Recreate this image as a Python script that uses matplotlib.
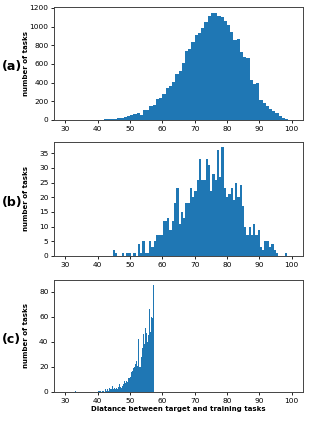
import matplotlib
matplotlib.use("Agg")
import matplotlib.pyplot as plt
import numpy as np

# (a) all tasks, bins of width 1 from 30 to 100
edges_a = np.arange(30, 101, 1)
counts_a = [
    0, 0, 0, 0, 1, 1, 1, 2, 2, 3,            # 30-39
    4, 5, 6, 8, 10, 13, 16, 20, 28, 38,      # 40-49
    50, 60, 80, 55, 105, 110, 145, 160, 228, 232,  # 50-59
    282, 340, 360, 405, 490, 525, 610, 740, 760, 830,  # 60-69
    905, 930, 985, 1045, 1110, 1150, 1145, 1110, 1100, 1060,  # 70-79
    1020, 940, 860, 865, 730, 670, 660, 430, 390, 400,  # 80-89
    210, 180, 150, 120, 100, 70, 45, 25, 10, 3,  # 90-99
]

# (b) 100 bins over 30..100
edges_b = np.linspace(30, 100, 101)
counts_b = [
    0] * 21 + [
    2, 1, 0, 0, 1, 0, 1, 1, 0, 1,            # 21-30
    0, 4, 1, 5, 1, 1, 5, 3, 5, 7,            # 31-40
    7, 7, 12, 12, 13, 9, 12, 18, 23, 11,     # 41-50
    15, 13, 18, 18, 23, 20, 22, 26, 33, 26,  # 51-60
    26, 33, 31, 22, 28, 26, 36, 27, 37, 23,  # 61-70
    20, 21, 23, 19, 25, 20, 24, 17, 10, 7,   # 71-80
    10, 7, 11, 7, 9, 3, 2, 5, 5, 3,          # 81-90
    4, 2, 1, 0, 0, 0, 1, 0, 0,               # 91-99
]

# (c) narrow bins, data between ~33 and 57.5
start_c = 33.0
width_c = 0.25
counts_c = [1] + [0] * 26 + [
    0, 1, 0, 1, 1, 0, 1, 2, 1, 0,
    2, 1, 3, 2, 1, 3, 2, 3, 2, 5,
    2, 3, 2, 4, 3, 2, 4, 6, 3, 4,
    3, 5, 6, 8, 9, 7, 9, 8, 10, 11,
    11, 12, 16, 17, 17, 19, 20, 22, 25, 24,
    21, 42, 20, 20, 27, 28, 35, 46, 38, 40,
    51, 47, 40, 45, 48, 66, 48, 60, 59, 59,
    85,
]
edges_c = start_c + width_c * np.arange(len(counts_c) + 1)

panels = [
    ("(a)", edges_a, counts_a, [0, 200, 400, 600, 800, 1000, 1200]),
    ("(b)", edges_b, counts_b, [0, 5, 10, 15, 20, 25, 30, 35]),
    ("(c)", edges_c, counts_c, [0, 20, 40, 60, 80]),
]
bounds = [(0.715, 0.983), (0.392, 0.663), (0.069, 0.335)]

fig = plt.figure(figsize=(3.11, 4.21), dpi=100)
for (tag, edges, counts, yt), (b, t) in zip(panels, bounds):
    ax = fig.add_axes([0.174, b, 0.80, t - b])
    ax.hist(edges[:-1], bins=edges, weights=counts, color="#1f77b4")
    ax.set_xlim(26.5, 103.5)
    ax.set_xticks(range(30, 101, 10))
    ax.set_yticks(yt)
    ax.tick_params(labelsize=5.3, length=2.5, width=0.6, pad=1.5)
    for s in ax.spines.values():
        s.set_linewidth(0.7)
        s.set_color("#444444")
    ax.set_ylabel("number of tasks", fontsize=5.0, fontweight="bold")
    ax.yaxis.set_label_coords(-0.10, 0.5)
    fig.text(0.006, (b + t) / 2 - 0.008, tag, fontsize=9, fontweight="bold",
             ha="left", va="center")
    if tag == "(c)":
        ax.set_xlabel("Diatance between target and training tasks",
                      fontsize=5.0, fontweight="bold", labelpad=2)

fig.savefig("out.png", dpi=100)
